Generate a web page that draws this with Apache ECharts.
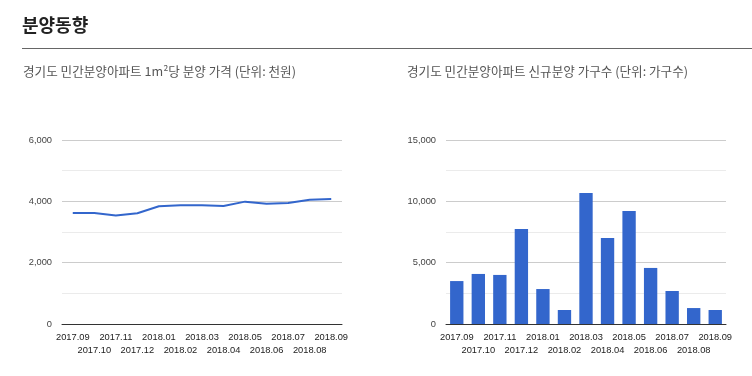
<!DOCTYPE html>
<html><head><meta charset="utf-8">
<script src="https://cdn.jsdelivr.net/npm/echarts@6/dist/echarts.min.js"></script>
<style>html,body{margin:0;padding:0;background:#fff}#c{width:752px;height:376px}</style>
</head><body><div id="c"></div>
<script>
const months = ['2017.09','2017.10','2017.11','2017.12','2018.01','2018.02','2018.03','2018.04','2018.05','2018.06','2018.07','2018.08','2018.09'];
const priceValues = [3620,3620,3540,3610,3840,3870,3870,3850,3990,3920,3945,4055,4075];
const unitValues = [3500,4080,4000,7740,2850,1140,10680,7010,9210,4570,2690,1300,1140];
const pageTitle = '분양동향';
const leftTitle = '경기도 민간분양아파트 1m²당 분양 가격 (단위: 천원)';
const rightTitle = '경기도 민간분양아파트 신규분양 가구수 (단위: 가구수)';

function comma(v){return String(v).replace(/\B(?=(\d{3})+(?!\d))/g, ',');}
const labelFont = {fontFamily:'Liberation Sans, Arial', fontSize:9.3, color:'#222'};
function xAxis(gi){
  return {type:'category', gridIndex:gi, data:months, boundaryGap:true,
    axisTick:{show:false}, axisLine:{lineStyle:{color:'#333',width:1}},
    axisLabel:Object.assign({interval:0, margin:7, lineHeight:13,
      formatter:function(v,i){return i%2===1 ? '\n'+v : v;}}, labelFont)};
}
function yAxis(gi, max, interval){
  return {type:'value', gridIndex:gi, min:0, max:max, interval:interval,
    axisLine:{show:false}, axisTick:{show:false},
    axisLabel:Object.assign({margin:10, formatter:function(v){return comma(v);}}, labelFont, {color:'#444'}),
    splitLine:{lineStyle:{color:'#ccc',width:1}},
    minorTick:{show:false, splitNumber:2},
    minorSplitLine:{show:true, lineStyle:{color:'#ebebeb',width:1}}};
}
const chart = echarts.init(document.getElementById('c'));
chart.setOption({
  animation:false,
  backgroundColor:'#fff',
  grid:[{left:62,right:410,top:140,bottom:52},{left:446,right:26,top:140,bottom:52}],
  xAxis:[xAxis(0), xAxis(1)],
  yAxis:[yAxis(0,6000,2000), yAxis(1,15000,5000)],
  series:[
    {type:'line', xAxisIndex:0, yAxisIndex:0, data:priceValues, showSymbol:false, symbol:'none',
     lineStyle:{color:'#3366cc',width:2}, itemStyle:{color:'#3366cc'}},
    {type:'bar', xAxisIndex:1, yAxisIndex:1, data:unitValues, barWidth:'62%',
     itemStyle:{color:'#3366cc'}}
  ],
  graphic:[
    {type:'text', left:22, top:16, style:{text:pageTitle, font:'bold 18px "Noto Sans CJK KR"', fill:'#222'}},
    {type:'line', shape:{x1:22,y1:48.5,x2:752,y2:48.5}, style:{stroke:'#666',lineWidth:1}},
    {type:'text', left:23, top:65, style:{text:leftTitle, font:'12.6px "Noto Sans CJK KR"', fill:'#555'}},
    {type:'text', left:407, top:65, style:{text:rightTitle, font:'12.6px "Noto Sans CJK KR"', fill:'#555'}}
  ]
});
</script></body></html>
